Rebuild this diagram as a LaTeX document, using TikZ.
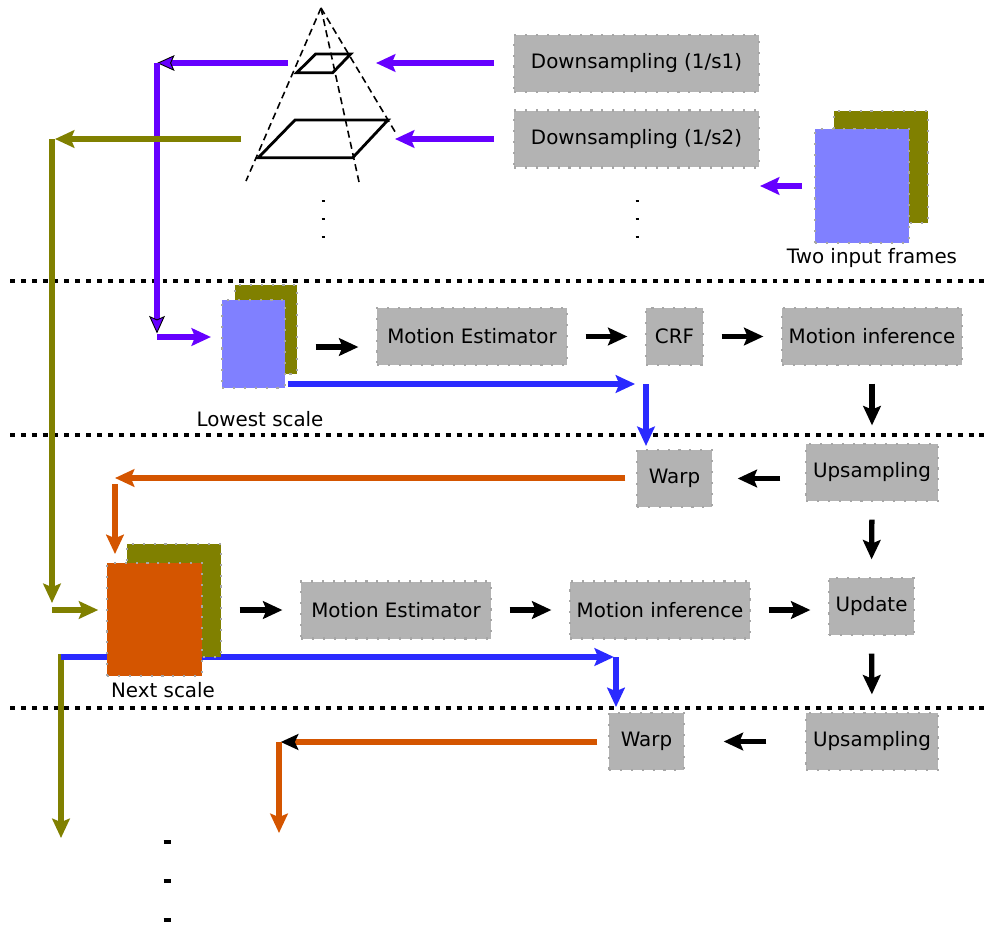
\documentclass[tikz,border=0pt]{standalone}
\usepackage{fontspec}
\setmainfont{DejaVu Sans}
\usepackage{tikz}
\usetikzlibrary{arrows.meta}
\usetikzlibrary{calc}

\definecolor{purp}{RGB}{102,0,255}
\definecolor{bluec}{RGB}{42,42,255}
\definecolor{lblue}{RGB}{128,128,255}
\definecolor{olivec}{RGB}{128,128,0}
\definecolor{orangec}{RGB}{212,85,0}
\definecolor{boxgray}{RGB}{179,179,179}

\begin{document}
\begin{tikzpicture}[x=0.02cm,y=-0.02cm,
    font=\fontsize{11.3}{13.5}\selectfont,
    box/.style={fill=boxgray,draw=black!35,dash pattern=on 1.2pt off 5pt,line width=1.2pt,inner sep=0pt,minimum height=1.14cm},
    frame/.style={draw=black!35,dash pattern=on 1.2pt off 5pt,line width=1.2pt,inner sep=0pt},
    arr/.style={line width=3pt,-{Stealth[length=11pt,width=10pt,inset=2pt]}},
    blk/.style={arr,black,shorten <=10pt,shorten >=10pt},
    sep/.style={line width=2.8pt,dash pattern=on 2.8pt off 3.4pt},
    layer/.style={line width=1.6pt,line join=miter}]
    \useasboundingbox (0,0) rectangle (984,927);

    % Separators
    \foreach \y in {281,435,708}
      \draw[sep] (10,\y) -- (984,\y);%

    % Pyramid
    \coordinate (apex) at (321,8);
    \draw[dash pattern=on 4pt off 2.5pt,line width=0.9pt] (apex) -- (246,181);%
    \draw[dash pattern=on 4pt off 2.5pt,line width=0.9pt] (apex) -- (359,182);%
    \draw[dash pattern=on 4pt off 2.5pt,line width=0.9pt] (apex) -- (397,135);%
    \draw[layer] (315.7,54) -- (350.7,54) -- (332.7,72.7) -- (296.7,72.7) -- cycle;% level 1
    \draw[layer] (295,120) -- (388,120) -- (352.7,157.7) -- (258.3,157.7) -- cycle;% level 2

    % Dots
    \foreach \y in {201,219,237} {
      \draw[line width=1.2pt] (321.5,\y) -- (324.5,\y);%
      \draw[line width=1.2pt] (635.5,\y) -- (638.5,\y);%
    }
    \foreach \y in {842,881,920}
      \draw[line width=2.2pt] (163.5,\y) -- (170.5,\y);%

    % Boxes
    \node[box,minimum width=4.9cm] (ds1) at (636.5,63.5) {Downsampling (1/s1)};
    \node[box,minimum width=4.9cm] (ds2) at (636.5,139) {Downsampling (1/s2)};
    \node[box,minimum width=3.8cm] (me1) at (472,336.5) {Motion Estimator};
    \node[box,minimum width=1.14cm] (crf) at (674.5,336.5) {CRF};
    \node[box,minimum width=3.6cm] (mi1) at (872,336.5) {Motion inference};
    \node[box,minimum width=1.5cm] (warp1) at (674.5,478.5) {Warp};
    \node[box,minimum width=2.64cm] (up1) at (872,472.5) {Upsampling};
    \node[box,minimum width=3.8cm] (me2) at (396,610) {Motion Estimator};
    \node[box,minimum width=3.6cm] (mi2) at (660,610) {Motion inference};
    \node[box,minimum width=1.7cm] (upd) at (871.5,606.5) {Update};
    \node[box,minimum width=1.5cm] (warp2) at (646.5,741.5) {Warp};
    \node[box,minimum width=2.64cm] (up2) at (872,741.5) {Upsampling};

    % Frames
    \node[frame,fill=olivec,minimum width=1.88cm,minimum height=2.24cm] (inB) at (881,167) {};
    \node[frame,fill=lblue,minimum width=1.88cm,minimum height=2.28cm] (inA) at (862,186) {};
    \node[frame,fill=olivec,minimum width=1.24cm,minimum height=1.78cm] (lowB) at (266,329.5) {};
    \node[frame,fill=lblue,minimum width=1.26cm,minimum height=1.76cm] (lowA) at (253.5,344) {};

    % Labels
    \node (lblIn) at (872,258) {Two input frames};
    \node (lblLow) at (260,419) {Lowest scale};
    \node (lblNext) at (163,690) {Next scale};

    % Bends
    \coordinate (py1) at (376,63);
    \coordinate (py2) at (395,139);
    \coordinate (inArr) at (760,186);
    \coordinate (l1) at (288,63);
    \coordinate (c1) at (157,63);
    \coordinate (c2) at (157,337);
    \coordinate (o1) at (241,139);
    \coordinate (o2) at (52,139);
    \coordinate (o3) at (52,610);
    \coordinate (o4) at (61,654);
    \coordinate (o5) at (61,838);
    \coordinate (b1) at (288,384);
    \coordinate (b2) at (646,384);
    \coordinate (b3) at (61,657);
    \coordinate (b4) at (616,657);
    \coordinate (r1) at (115,478);
    \coordinate (r4) at (279,742);
    \coordinate (r5) at (279,833);

    % Purple arrows
    \draw[arr,purp,shorten <=10.8pt] (ds1.west |- py1) -- (py1);%
    \draw[arr,purp,shorten <=10.8pt] (ds2.west) -- (py2);%
    \draw[arr,purp,shorten <=6.8pt] (inA.west) -- (inArr);%
    \draw[arr,purp,-{Stealth[length=10pt,width=9pt,inset=2pt,color=black,fill=purp,line width=0.5pt]}] (l1) -- (c1);%
    \draw[arr,purp,shorten >=2pt,-{Stealth[length=10pt,width=9pt,inset=2pt,color=black,fill=purp,line width=0.5pt]}] (c1) -- (c2);%
    \draw[arr,purp,shorten >=5.7pt] (c2) -- (lowA.west |- c2);%

    % Olive arrows
    \draw[arr,olivec,shorten >=1.7pt] (o1) -- (o2);%
    \draw[arr,olivec,shorten >=4pt] (o2) -- (o3);%
    \draw[arr,olivec,shorten >=5pt] (o3) -- (107,610);%
    \draw[arr,olivec] (o4) -- (o5);%

    % Blue arrows
    \draw[arr,bluec,shorten >=6.2pt] (b1) -- (b2);%
    \draw[arr,bluec,shorten >=1.7pt] (b2) -- (b2 |- warp1.north);%
    \draw[arr,bluec,shorten >=1.2pt] (b3) -- (b4);%
    \draw[arr,bluec,shorten >=2.8pt] (b4) -- (b4 |- warp2.north);%

    % Next scale frames
    \node[frame,fill=olivec,minimum width=1.88cm,minimum height=2.26cm] (nextB) at (174,600.5) {};
    \node[frame,fill=orangec,minimum width=1.9cm,minimum height=2.26cm] (nextA) at (154.5,619.5) {};

    % Orange arrows
    \draw[arr,orangec,shorten <=6pt] (warp1.west |- r1) -- (r1);%
    \draw[arr,orangec,shorten <=3.5pt,shorten >=4.5pt] (r1) -- (r1 |- nextA.north);%
    \draw[arr,orangec,shorten <=6pt,-{Stealth[length=10pt,width=9pt,inset=2pt,black]}] (warp2.west |- r4) -- ([xshift=1pt]r4);%
    \draw[arr,orangec] (r4) -- (r5);%

    % Black arrows
    \draw[blk] (lowB.east |- 0,347) -- (me1.west |- 0,347);%
    \draw[blk] (me1.east) -- (crf.west);%
    \draw[blk] (crf.east) -- (mi1.west);%
    \draw[blk] (mi1.south) -- (up1.north);%
    \draw[blk,shorten <=14pt,shorten >=14pt] (up1.west |- warp1.east) -- (warp1.east);%
    \draw[blk] (up1.south) -- (upd.north);%
    \draw[blk] (nextB.east |- me2.west) -- (me2.west);%
    \draw[blk] (me2.east) -- (mi2.west);%
    \draw[blk] (mi2.east) -- (upd.west |- mi2.east);%
    \draw[blk] (upd.south) -- (up2.north);%
    \draw[blk,shorten <=22pt,shorten >=22pt] (up2.west) -- (warp2.east);%
\end{tikzpicture}
\end{document}
